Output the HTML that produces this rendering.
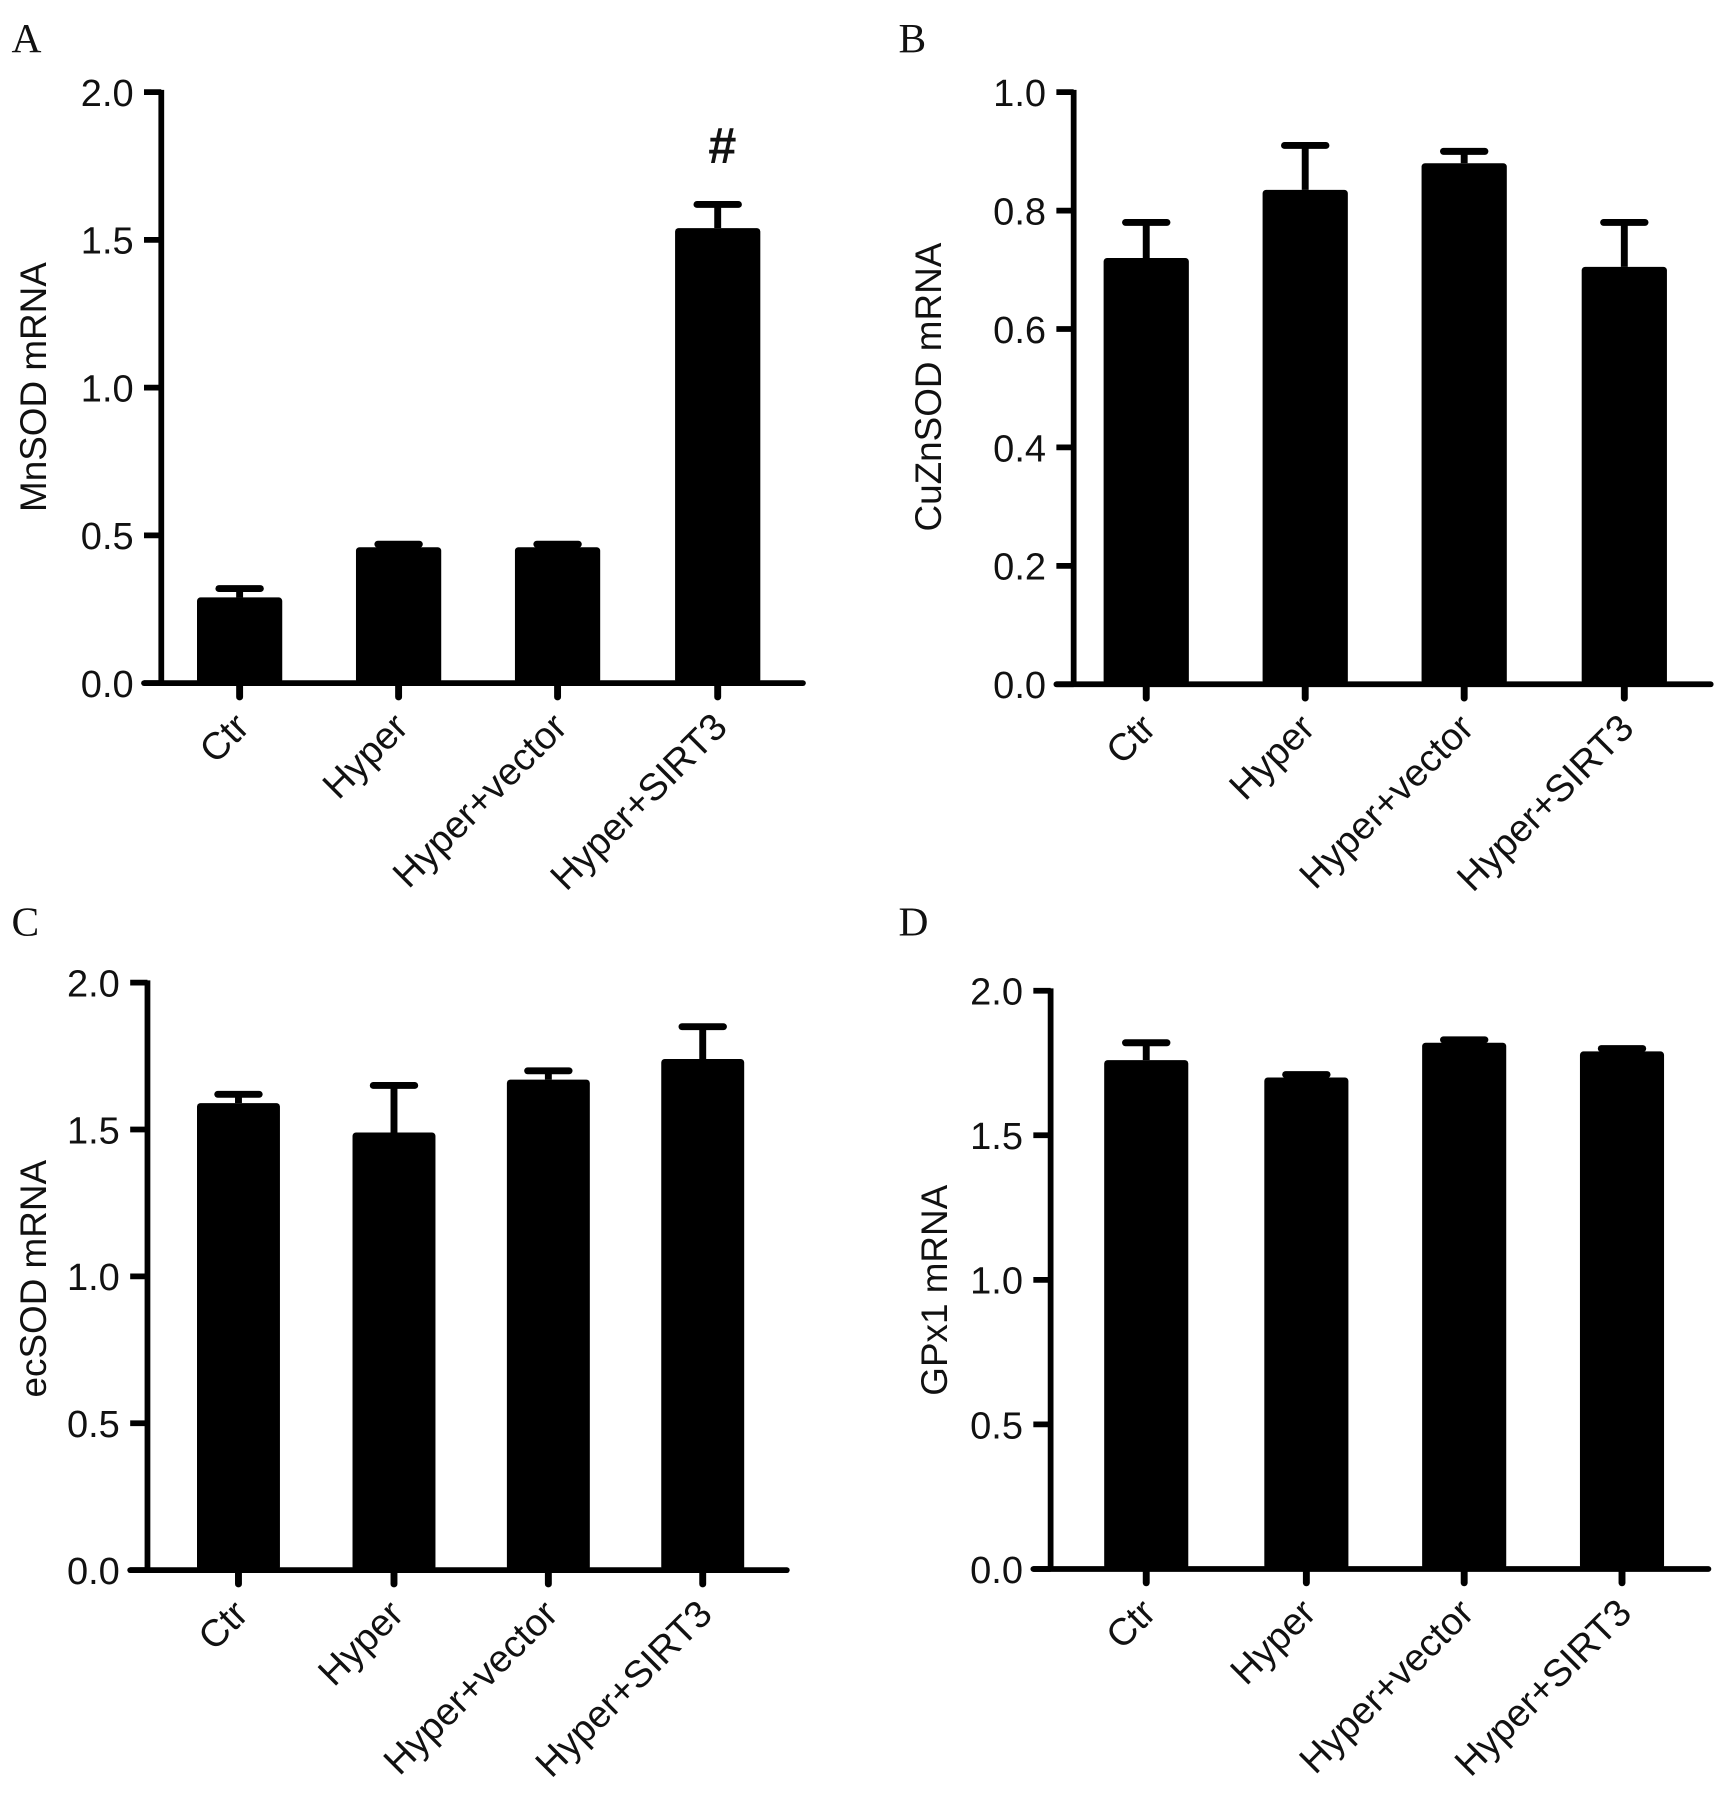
<!DOCTYPE html>
<html><head><meta charset="utf-8"><style>
html,body{margin:0;padding:0;background:#fff;}
svg{display:block;}
text{font-family:"Liberation Sans",Arial,sans-serif;fill:#111;}
</style></head><body>
<svg id="fig" width="1728" height="1810" viewBox="0 0 1500 1571.2" xmlns="http://www.w3.org/2000/svg"></svg>
<script>
const categories = ["Ctr","Hyper","Hyper+vector","Hyper+SIRT3"];
const valuesA = [0.29,0.46,0.46,1.54];
const errorsA = [0.32,0.47,0.47,1.62];
const valuesB = [0.72,0.835,0.88,0.705];
const errorsB = [0.78,0.91,0.90,0.78];
const valuesC = [1.59,1.49,1.67,1.74];
const errorsC = [1.62,1.65,1.70,1.85];
const valuesD = [1.76,1.70,1.82,1.79];
const errorsD = [1.82,1.71,1.83,1.80];
const ticksA = ["0.0","0.5","1.0","1.5","2.0"];
const ticksB = ["0.0","0.2","0.4","0.6","0.8","1.0"];
const ticksC = ["0.0","0.5","1.0","1.5","2.0"];
const ticksD = ["0.0","0.5","1.0","1.5","2.0"];

const NS="http://www.w3.org/2000/svg";
const svg=document.getElementById('fig');
function mk(tag,attrs,parent){const e=document.createElementNS(NS,tag);for(const k in attrs)e.setAttribute(k,attrs[k]);(parent||svg).appendChild(e);return e;}

const panels=[
 {id:'a',letter:'A',lx:10,ly:45,ax:140,top:80,bot:593,xend:697,max:2.0,ticks:ticksA,vals:valuesA,errs:errorsA,centers:[208,346,484,623],bw:74,title:'MnSOD mRNA',tx:40,ty:336,mark:'#'},
 {id:'b',letter:'B',lx:780,ly:45,ax:932,top:80,bot:594,xend:1485,max:1.0,ticks:ticksB,vals:valuesB,errs:errorsB,centers:[995,1133,1271,1410],bw:74,title:'CuZnSOD mRNA',tx:817,ty:336},
 {id:'c',letter:'C',lx:10,ly:812,ax:128,top:853,bot:1363,xend:683,max:2.0,ticks:ticksC,vals:valuesC,errs:errorsC,centers:[207,342,476,610],bw:72,title:'ecSOD mRNA',tx:40,ty:1110},
 {id:'d',letter:'D',lx:780,ly:812,ax:912,top:860,bot:1362,xend:1483,max:2.0,ticks:ticksD,vals:valuesD,errs:errorsD,centers:[995,1134,1271,1408],bw:73,title:'GPx1 mRNA',tx:822,ty:1120}
];

panels.forEach(p=>{
 const g=mk('g',{});
 
 
 const y=v=>p.bot-(v/p.max)*(p.bot-p.top);
 const L=mk('text',{x:p.lx,y:p.ly,'font-size':36,style:'font-family:"Liberation Serif",serif'},g);
 L.textContent=p.letter;
 
 
 p.vals.forEach((v,i)=>{
  const cx=p.centers[i];
  const el=mk('line',{x1:cx,x2:cx,y1:y(v),y2:y(p.errs[i]),stroke:'#000','stroke-width':6},g);
  
  
  const cap=mk('line',{x1:cx-18,x2:cx+18,y1:y(p.errs[i]),y2:y(p.errs[i]),stroke:'#000','stroke-width':6,'stroke-linecap':'round'},g);
  
  
  const r=mk('rect',{x:cx-p.bw/2,y:y(v),width:p.bw,height:p.bot-y(v),fill:'#000',rx:3},g);
  
  
  const t=mk('line',{x1:cx,x2:cx,y1:p.bot,y2:p.bot+12,stroke:'#000','stroke-width':6,'stroke-linecap':'round'},g);
  
  
  const ax=cx+10, ay=p.bot+40;
  const lab=mk('text',{x:ax,y:ay,'font-size':33,'text-anchor':'end',transform:'rotate(-45 '+ax+' '+ay+')'},g);
  lab.textContent=categories[i];
  
  
 });
 const ya=mk('line',{x1:p.ax,x2:p.ax,y1:p.top-2,y2:p.bot,stroke:'#000','stroke-width':5},g);
 
 
 const xa=mk('line',{x1:p.ax-15,x2:p.xend,y1:p.bot,y2:p.bot,stroke:'#000','stroke-width':5,'stroke-linecap':'round'},g);
 
 
 p.ticks.forEach(tk=>{
  const v=parseFloat(tk),yy=y(v);
  const tl=mk('line',{x1:p.ax-15,x2:p.ax,y1:yy,y2:yy,stroke:'#000','stroke-width':5},g);
  
  
  const tt=mk('text',{x:p.ax-24,y:yy+12,'font-size':33,'text-anchor':'end'},g);
  tt.textContent=tk;
  
  
 });
 const ti=mk('text',{x:p.tx,y:p.ty,'font-size':32,'text-anchor':'middle',transform:'rotate(-90 '+p.tx+' '+p.ty+')'},g);
 ti.textContent=p.title;
 
 
 if(p.mark){
  const cx=p.centers[3];
  const m=mk('text',{x:cx+4,y:y(p.errs[3])-36,'font-size':44,'font-weight':'bold','text-anchor':'middle'},g);
  m.textContent=p.mark;
  
  
 }
});
</script>
</body></html>
